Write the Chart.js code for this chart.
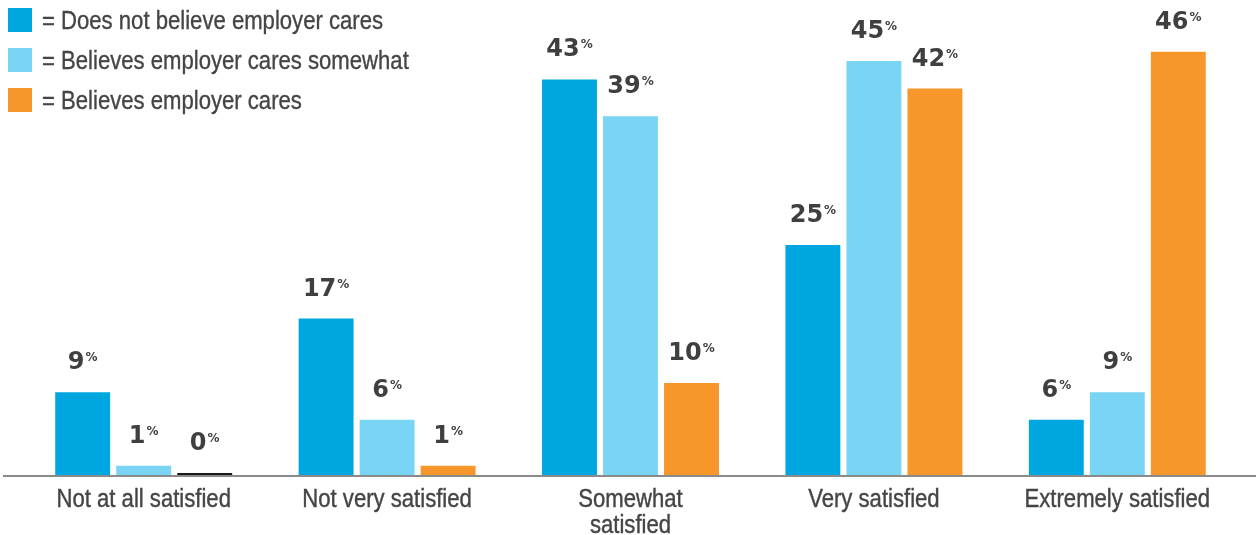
<!DOCTYPE html>
<html>
<head>
<meta charset="utf-8">
<script src="https://cdn.jsdelivr.net/npm/chart.js@4.4.1/dist/chart.umd.min.js"></script>
<style>
  html, body { margin: 0; padding: 0; background: #fff; }
  #wrap { position: relative; width: 1260px; height: 535px; }
  #legend { position: absolute; left: 8px; top: 0; font-family: "Liberation Sans", Arial, sans-serif; font-size: 25px; color: #454545; -webkit-text-stroke: 0.35px #454545; }
  .row { display: flex; align-items: center; height: 40px; white-space: nowrap; }
  .sw { width: 24px; height: 24px; margin-right: 10px; flex: none; }
  .row span { display: inline-block; transform-origin: 0 50%; }
</style>
</head>
<body>
<div id="wrap">
  <canvas id="chart" width="1260" height="535"></canvas>
  <div id="legend"></div>
</div>
<script>
const categories = ['Not at all satisfied', 'Not very satisfied', ['Somewhat', 'satisfied'], 'Very satisfied', 'Extremely satisfied'];
const seriesNames = ['Does not believe employer cares', 'Believes employer cares somewhat', 'Believes employer cares'];
const seriesColors = ['#00a6e0', '#7ad5f5', '#f7962a'];
const notCares = [9, 17, 43, 25, 6];
const somewhatCares = [1, 6, 39, 45, 9];
const cares = [0, 1, 10, 42, 46];

const textFont = '25px "Liberation Sans", Arial, sans-serif';

// the original uses a condensed grotesque, so squeeze Liberation Sans to fit
const probe = document.createElement('canvas').getContext('2d');
probe.font = textFont;
const squeeze = 341 / probe.measureText('= ' + seriesNames[0]).width;

const legend = document.getElementById('legend');
seriesNames.forEach((name, i) => {
  const row = document.createElement('div');
  row.className = 'row';
  row.innerHTML = '<div class="sw" style="background:' + seriesColors[i] + '"></div><span style="transform:scaleX(' + squeeze + ')">= ' + name + '</span>';
  legend.appendChild(row);
});

const valueLabels = {
  id: 'valueLabels',
  afterDatasetsDraw(chart) {
    const ctx = chart.ctx;
    ctx.save();
    ctx.fillStyle = '#3f3f3f';
    ctx.textBaseline = 'alphabetic';
    ctx.textAlign = 'left';
    chart.data.datasets.forEach((ds, di) => {
      chart.getDatasetMeta(di).data.forEach((bar, i) => {
        const num = String(ds.data[i]);
        ctx.font = 'bold 24px "DejaVu Sans"';
        const wNum = ctx.measureText(num).width;
        ctx.font = 'bold 12px "DejaVu Sans"';
        const wPct = ctx.measureText('%').width;
        const x0 = bar.x - (wNum + 1 + wPct) / 2;
        const base = bar.y - 23;
        ctx.font = 'bold 24px "DejaVu Sans"';
        ctx.fillText(num, x0, base);
        ctx.font = 'bold 12px "DejaVu Sans"';
        ctx.fillText('%', x0 + wNum + 1, base - 8);
      });
    });
    ctx.restore();
  }
};

const baseLine = {
  id: 'baseLine',
  beforeDatasetsDraw(chart) {
    const ctx = chart.ctx;
    const y = chart.scales.y.getPixelForValue(0) + 1;
    ctx.save();
    ctx.strokeStyle = '#8a8a8a';
    ctx.lineWidth = 2;
    ctx.beginPath();
    ctx.moveTo(3, y);
    ctx.lineTo(1256, y);
    ctx.stroke();
    ctx.restore();
  }
};

const categoryLabels = {
  id: 'categoryLabels',
  afterDraw(chart) {
    const ctx = chart.ctx;
    const xs = chart.scales.x;
    ctx.save();
    ctx.fillStyle = '#454545';
    ctx.strokeStyle = '#454545';
    ctx.lineWidth = 0.4;
    ctx.font = textFont;
    ctx.textAlign = 'center';
    ctx.textBaseline = 'alphabetic';
    chart.data.labels.forEach((lab, i) => {
      const lines = Array.isArray(lab) ? lab : [lab];
      const x = xs.getPixelForTick(i);
      lines.forEach((line, j) => {
        ctx.save();
        ctx.translate(x, xs.top + 32 + j * 26);
        ctx.scale(squeeze, 1);
        ctx.fillText(line, 0, 0);
        ctx.strokeText(line, 0, 0);
        ctx.restore();
      });
    });
    ctx.restore();
  }
};

new Chart(document.getElementById('chart'), {
  type: 'bar',
  data: {
    labels: categories,
    datasets: [notCares, somewhatCares, cares].map((d, i) => ({
      label: seriesNames[i],
      data: d,
      backgroundColor: c => (c.raw === 0 ? '#1a1a1a' : seriesColors[i]),
      minBarLength: 2,
      barPercentage: 0.9,
      categoryPercentage: 0.752
    }))
  },
  options: {
    responsive: false,
    animation: false,
    layout: { padding: { left: 22, right: 21, top: 15, bottom: 0 } },
    plugins: { legend: { display: false }, tooltip: { enabled: false } },
    scales: {
      x: {
        grid: { display: false, drawTicks: false },
        border: { display: false },
        ticks: { display: false },
        afterFit: s => { s.height = 60; }
      },
      y: { display: false, min: 0, max: 50 }
    }
  },
  plugins: [baseLine, valueLabels, categoryLabels]
});
</script>
</body>
</html>
